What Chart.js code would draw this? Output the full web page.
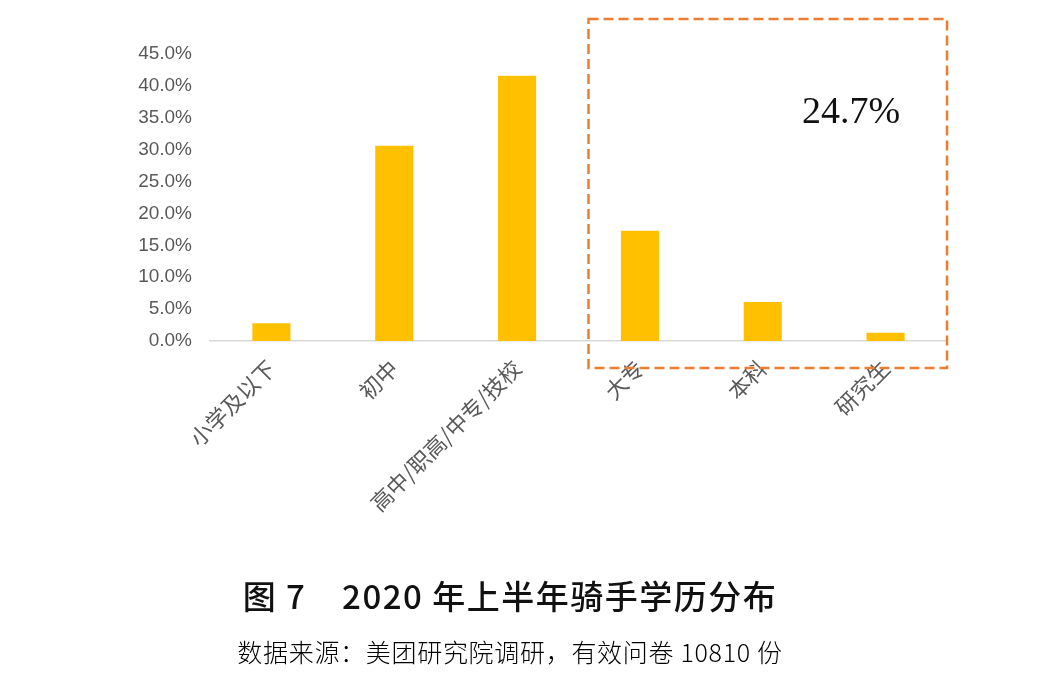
<!DOCTYPE html>
<html>
<head>
<meta charset="utf-8">
<script src="https://cdn.jsdelivr.net/npm/chart.js@4.4.1/dist/chart.umd.min.js"></script>
<style>
  html, body { margin: 0; padding: 0; background: #ffffff; }
  #wrap { position: relative; width: 1052px; height: 676px; overflow: hidden; }
  #c { position: absolute; left: 0; top: 0; }
  .cap { position: absolute; left: 0; width: 1020px; text-align: center; white-space: pre; }
  #title { top: 573px; font-family: "Noto Sans CJK SC", sans-serif; font-weight: 500; font-size: 33px; letter-spacing: 1.5px; color: #111; line-height: 44px; }
  #source { top: 634px; font-family: "Noto Sans CJK SC", sans-serif; font-weight: 300; font-size: 25px; letter-spacing: 0.7px; color: #000; line-height: 34px; }
</style>
</head>
<body>
<div id="wrap">
  <canvas id="c" width="1052" height="676"></canvas>
  <div id="title" class="cap"></div>
  <div id="source" class="cap"></div>
</div>
<script>
// ---- data ----
const categories = ['小学及以下', '初中', '高中/职高/中专/技校', '大专', '本科', '研究生'];
const shares = [2.8, 30.6, 41.6, 17.3, 6.1, 1.3];
const yMax = 45;
const yStep = 5;
const highlightLabel = '24.7%';
const highlightFrom = 3; // index of first highlighted category (大专)
const titleText = '图 7    2020 年上半年骑手学历分布';
const sourceText = '数据来源：美团研究院调研，有效问卷 10810 份';

document.getElementById('title').textContent = titleText;
document.getElementById('source').textContent = sourceText;

const highlightBox = {
  id: 'highlightBox',
  afterDatasetsDraw(chart) {
    const { ctx, chartArea, scales } = chart;
    const x = scales.x, y = scales.y;
    const left = x.getPixelForValue(highlightFrom - 0.5) + 10;
    const right = chartArea.right;
    const top = chartArea.top - 35;
    const bottom = chartArea.bottom + 27;
    ctx.save();
    ctx.strokeStyle = '#ED7D31';
    ctx.lineWidth = 2.5;
    ctx.setLineDash([10, 5]);
    ctx.strokeRect(left, top, right - left, bottom - top);
    ctx.setLineDash([]);
    ctx.fillStyle = '#111';
    ctx.font = '38px "Liberation Serif", "DejaVu Serif", serif';
    ctx.textAlign = 'center';
    ctx.textBaseline = 'middle';
    ctx.fillText(highlightLabel, x.getPixelForValue(4.72), y.getPixelForValue(35.8));
    ctx.restore();
  }
};

new Chart(document.getElementById('c'), {
  type: 'bar',
  data: {
    labels: categories,
    datasets: [{
      data: shares,
      backgroundColor: '#FFC000',
      borderWidth: 0,
      categoryPercentage: 1,
      barPercentage: 0.31
    }]
  },
  options: {
    responsive: false,
    animation: false,
    devicePixelRatio: 1,
    layout: { padding: { left: 0, right: 105, top: 54, bottom: 0 } },
    plugins: { legend: { display: false }, tooltip: { enabled: false } },
    scales: {
      x: {
        grid: { display: false, drawTicks: false },
        border: { display: true, color: '#d9d9d9', width: 1.5 },
        ticks: {
          color: '#595959',
          font: { family: '"Noto Sans CJK SC", sans-serif', size: 22 },
          minRotation: 45, maxRotation: 45,
          padding: 14,
          autoSkip: false
        },
        afterFit(scale) { scale.height = 335; }
      },
      y: {
        min: 0, max: yMax,
        grid: { display: false, drawTicks: false },
        border: { display: false },
        ticks: {
          stepSize: yStep,
          color: '#595959',
          font: { family: '"Liberation Sans", Arial, sans-serif', size: 19 },
          padding: 18,
          callback: v => v.toFixed(1) + '%'
        },
        afterFit(scale) { scale.width = 210; }
      }
    }
  },
  plugins: [highlightBox]
});
</script>
</body>
</html>
